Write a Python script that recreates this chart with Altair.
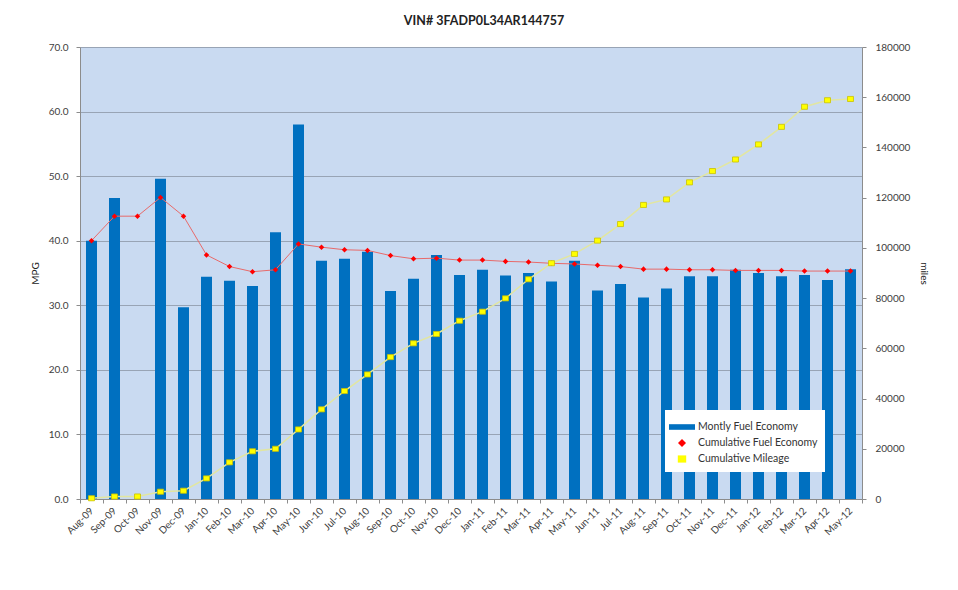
import altair as alt
import pandas as pd

months = ["Aug-09", "Sep-09", "Oct-09", "Nov-09", "Dec-09",
          "Jan-10", "Feb-10", "Mar-10", "Apr-10", "May-10", "Jun-10",
          "Jul-10", "Aug-10", "Sep-10", "Oct-10", "Nov-10", "Dec-10",
          "Jan-11", "Feb-11", "Mar-11", "Apr-11", "May-11", "Jun-11",
          "Jul-11", "Aug-11", "Sep-11", "Oct-11", "Nov-11", "Dec-11",
          "Jan-12", "Feb-12", "Mar-12", "Apr-12", "May-12"]

monthly_mpg = [40.0, 46.6, None, 49.6, 29.7,
               34.4, 33.8, 33.0, 41.3, 58.0, 36.9,
               37.2, 38.3, 32.2, 34.1, 37.8, 34.7,
               35.5, 34.6, 35.0, 33.7, 36.9, 32.3,
               33.3, 31.2, 32.6, 34.5, 34.5, 35.5,
               35.0, 34.5, 34.7, 33.9, 35.6]

cumulative_mpg = [40.0, 43.8, 43.8, 46.7, 43.8,
                  37.8, 36.0, 35.2, 35.5, 39.5, 39.0,
                  38.6, 38.5, 37.7, 37.2, 37.3, 37.0,
                  37.0, 36.8, 36.7, 36.5, 36.4, 36.2,
                  36.0, 35.6, 35.6, 35.5, 35.5, 35.4,
                  35.4, 35.4, 35.3, 35.3, 35.3]

cumulative_miles = [300, 1000, 1000, 2900, 3300,
                    8200, 14600, 19000, 20000, 27700, 35700,
                    43000, 49600, 56500, 62000, 65700, 71000,
                    74600, 79900, 87500, 93900, 97600, 102900,
                    109500, 117100, 119300, 126100, 130600, 135200,
                    141200, 148200, 156200, 158800, 159300]

series_names = ["Montly Fuel Economy", "Cumulative Fuel Economy", "Cumulative Mileage"]
mpg_ticks = [0, 10, 20, 30, 40, 50, 60, 70]
mile_ticks = [0, 20000, 40000, 60000, 80000, 100000, 120000, 140000, 160000, 180000]

df_bar = pd.DataFrame({"month": months, "value": monthly_mpg, "series": series_names[0]})
df_cum = pd.DataFrame({"month": months, "value": cumulative_mpg, "series": series_names[1]})
df_mil = pd.DataFrame({"month": months, "value": cumulative_miles, "series": series_names[2]})

FONT = "Lato"
TXT = "#404040"

color_scale = alt.Scale(domain=series_names, range=["#0070C0", "#FF0000", "#FFFF00"])
shape_scale = alt.Scale(
    domain=series_names,
    range=["M-1.3,-0.28H1.3V0.28H-1.3Z",
           "M0,-0.4L0.4,0L0,0.4L-0.4,0Z",
           "M-0.42,-0.36H0.42V0.36H-0.42Z"],
)

x_enc = alt.X(
    "month:N", sort=months,
    scale=alt.Scale(paddingInner=0, paddingOuter=0),
    axis=alt.Axis(title=None, labelAngle=-45, labelAlign="right", labelBaseline="middle",
                  tickBand="extent", grid=False, tickSize=4, labelPadding=6,
                  domainColor="#8c8c8c", tickColor="#8c8c8c", labelFontSize=10,
                  labelColor=TXT, labelFont=FONT),
)

y_left = alt.Y(
    "value:Q",
    scale=alt.Scale(domain=[0, 70]),
    axis=alt.Axis(title="MPG", values=mpg_ticks, format=".1f", grid=True,
                  gridColor="#98a4b5", gridWidth=1, domainColor="#8c8c8c",
                  tickColor="#8c8c8c", tickSize=4, labelPadding=8, titlePadding=8,
                  labelFontSize=10, labelColor=TXT, titleFontSize=10,
                  titleFontWeight="normal", titleColor="#222", labelFont=FONT, titleFont=FONT),
)

y_right = alt.Y(
    "value:Q",
    scale=alt.Scale(domain=[0, 180000]),
    axis=alt.Axis(title="miles", orient="right", values=mile_ticks, format="d", grid=False,
                  domainColor="#8c8c8c", tickColor="#8c8c8c", tickSize=4, labelPadding=9,
                  titlePadding=9, labelFontSize=10, labelColor=TXT, titleFontSize=10,
                  titleFontWeight="normal", titleColor="#222", labelFont=FONT, titleFont=FONT),
)

legend = alt.Legend(title=None)

bars = alt.Chart(df_bar).mark_bar(size=11).encode(
    x=x_enc, y=y_left,
    color=alt.Color("series:N", scale=color_scale, legend=legend),
)

cum_line = alt.Chart(df_cum).mark_line(color="#E86A6A", strokeWidth=1).encode(
    x=x_enc, y=y_left,
)
cum_pts = alt.Chart(df_cum).mark_point(filled=True, size=190, opacity=1).encode(
    x=x_enc, y=y_left,
    color=alt.Color("series:N", scale=color_scale, legend=legend),
    shape=alt.Shape("series:N", scale=shape_scale, legend=legend),
)

mil_line = alt.Chart(df_mil).mark_line(color="#E2E6A0", strokeWidth=1.5).encode(
    x=x_enc, y=y_right,
)
mil_pts = alt.Chart(df_mil).mark_point(filled=True, size=200, opacity=1,
                                       stroke="#C9C200", strokeWidth=0.8).encode(
    x=x_enc, y=y_right,
    color=alt.Color("series:N", scale=color_scale, legend=legend),
    shape=alt.Shape("series:N", scale=shape_scale, legend=legend),
)

left = alt.layer(bars, cum_line, cum_pts)
right = alt.layer(mil_line, mil_pts)

chart = alt.layer(left, right).resolve_scale(y="independent").properties(
    width=782,
    height=452,
    title=alt.TitleParams("VIN# 3FADP0L34AR144757", fontSize=12.5, fontWeight="bold",
                          font=FONT, color="#222", offset=15, dx=13, anchor="middle"),
    autosize=alt.AutoSizeParams(type="none"),
    padding={"left": 72, "top": 39, "right": 88, "bottom": 83},
    background="white",
).configure_view(
    fill="#C9DAF1", stroke=None,
).configure_legend(
    orient="none", legendX=585, legendY=363, fillColor="white", padding=7,
    symbolSize=400, labelFontSize=10.5, labelColor="#333", labelFont=FONT,
    rowPadding=0, symbolStrokeWidth=0, labelOffset=6, symbolOpacity=1,
)

chart.save("out.html", embed_options={"renderer": "svg", "actions": False})
